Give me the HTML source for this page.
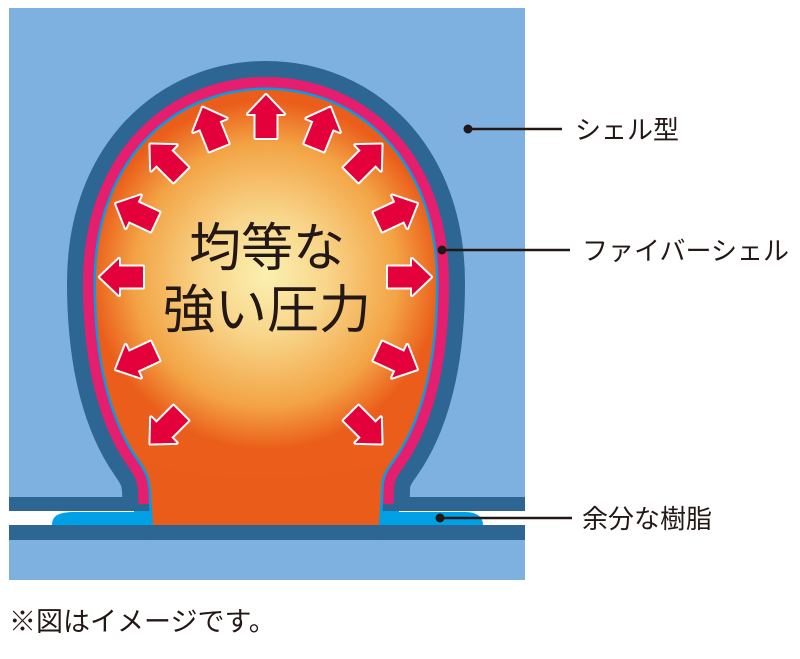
<!DOCTYPE html>
<html><head><meta charset="utf-8"><style>
html,body{margin:0;padding:0;background:#fff;}
svg{display:block;}
text{font-family:"Liberation Sans","Noto Sans CJK JP",sans-serif;fill:#231815;}
</style></head><body>
<svg width="800" height="659" viewBox="0 0 800 659" xmlns="http://www.w3.org/2000/svg">
<defs>
<radialGradient id="g" cx="266" cy="275" r="175" gradientUnits="userSpaceOnUse">
<stop offset="0" stop-color="#fbf0b0"/>
<stop offset="0.35" stop-color="#f8d58a"/>
<stop offset="0.75" stop-color="#f3a445"/>
<stop offset="1" stop-color="#ea5d1a"/>
</radialGradient>
<clipPath id="c"><rect x="0" y="0" width="800" height="511"/></clipPath>
<clipPath id="c2"><rect x="0" y="0" width="800" height="504"/></clipPath>
<polygon id="a" points="0,-22 18,-3 10.5,-3 10.5,21 -10.5,21 -10.5,-3 -18,-3"/>
</defs>
<rect x="9" y="8" width="516" height="572" fill="#7fb1e0"/>
<rect x="9" y="511" width="516" height="14" fill="#fff"/>
<path d="M52 525 C52 515 60 512 75 512 L150 512 L150 525 Z" fill="#00a0e6"/>
<path d="M383 512 L465 512 C478 512 483 518 483 525 L383 525 Z" fill="#00a0e6"/>
<rect x="134" y="497" width="20" height="28" fill="#00a0e6"/>
<rect x="379" y="497" width="20" height="28" fill="#00a0e6"/>
<g fill="none" stroke-linejoin="round">
<path clip-path="url(#c)" d="M153 540 L151 490 C150 475 145 468 138 458 C115 425 96 370 96 283 C96 160 175 90 266 90 C357 90 436 160 436 283 C436 370 417 425 394 458 C387 468 381 475 381 490 L379 540" stroke="#2d6693" stroke-width="58"/>
<path clip-path="url(#c2)" d="M153 540 L151 490 C150 475 145 468 138 458 C115 425 96 370 96 283 C96 160 175 90 266 90 C357 90 436 160 436 283 C436 370 417 425 394 458 C387 468 381 475 381 490 L379 540" stroke="#e61e6e" stroke-width="26"/>
<path d="M153 540 L151 490 C150 475 145 468 138 458 C115 425 96 370 96 283 C96 160 175 90 266 90 C357 90 436 160 436 283 C436 370 417 425 394 458 C387 468 381 475 381 490 L379 540" stroke="#00a0e6" stroke-width="5"/>
</g>
<path d="M153 525 L151 490 C150 475 145 468 138 458 C115 425 96 370 96 283 C96 160 175 90 266 90 C357 90 436 160 436 283 C436 370 417 425 394 458 C387 468 381 475 381 490 L379 525 Z" fill="#ea5c1a"/>
<path d="M138 458 C115 425 96 370 96 283 C96 160 175 90 266 90 C357 90 436 160 436 283 C436 370 417 425 394 458 C340 485 192 485 138 458 Z" fill="url(#g)"/>
<rect x="9" y="497" width="118" height="14" fill="#2d6693"/>
<rect x="406" y="497" width="119" height="14" fill="#2d6693"/>
<rect x="9" y="525" width="516" height="15" fill="#2d6693"/>
<g fill="#e4003a" stroke="#fff" stroke-width="4" stroke-linejoin="round" paint-order="stroke">
<use href="#a" transform="translate(266,117)"/>
<use href="#a" transform="translate(211,128) rotate(-22)"/>
<use href="#a" transform="translate(322,128) rotate(22)"/>
<use href="#a" transform="translate(166,160) rotate(-45)"/>
<use href="#a" transform="translate(366,160) rotate(45)"/>
<use href="#a" transform="translate(136,213) rotate(-65)"/>
<use href="#a" transform="translate(397,213) rotate(65)"/>
<use href="#a" transform="translate(122,277) rotate(-90)"/>
<use href="#a" transform="translate(409,277) rotate(90)"/>
<use href="#a" transform="translate(136,360) rotate(-115)"/>
<use href="#a" transform="translate(397,360) rotate(115)"/>
<use href="#a" transform="translate(166,428) rotate(-135)"/>
<use href="#a" transform="translate(366,428) rotate(135)"/>
</g>
<text x="267" y="266" font-size="52" text-anchor="middle">均等な</text>
<text x="267" y="328" font-size="52" text-anchor="middle">強い圧力</text>
<g stroke="#231815" stroke-width="2.5">
<line x1="468" y1="129" x2="562" y2="129"/>
<line x1="442" y1="250" x2="570" y2="250"/>
<line x1="440" y1="518" x2="572" y2="518"/>
</g>
<g fill="#231815">
<circle cx="468" cy="129" r="4.5"/>
<circle cx="442" cy="250" r="4.5"/>
<circle cx="440" cy="518" r="4.5"/>
</g>
<text x="575" y="139" font-size="26">シェル型</text>
<text x="582" y="260" font-size="26">ファイバーシェル</text>
<text x="582" y="528" font-size="26">余分な樹脂</text>
<text x="9" y="631" font-size="27">※図はイメージです。</text>
</svg>
</body></html>
